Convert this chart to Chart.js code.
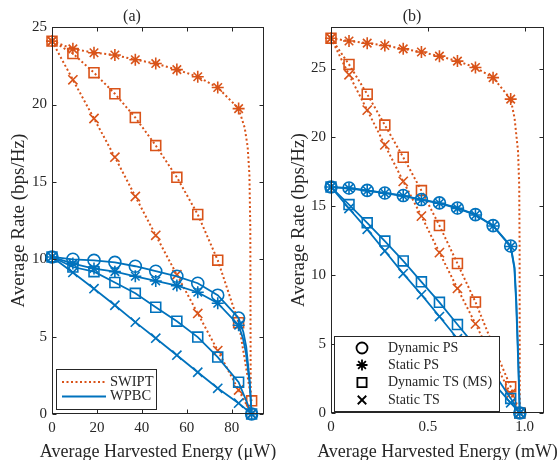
<!DOCTYPE html>
<html>
<head>
<meta charset="utf-8">
<script src="https://cdn.jsdelivr.net/npm/chart.js@4.4.1/dist/chart.umd.min.js"></script>
<style>
    html, body { margin: 0; padding: 0; background: #fff; }
    .panel { position: absolute; top: 0; height: 460px; }
</style>
</head>
<body>
<div class="panel" style="left:0;width:280px"><canvas id="chart-a"></canvas></div>
<div class="panel" style="left:280px;width:279px"><canvas id="chart-b"></canvas></div>
<script>
// Legend text
const systemLabels = ['SWIPT', 'WPBC'];
const schemeLabels = ['Dynamic PS', 'Static PS', 'Dynamic TS (MS)', 'Static TS'];

// Tick labels
const aXTicks = [0, 20, 40, 60, 80];
const aYTicks = [0, 5, 10, 15, 20, 25];
const bXTicks = [0, 0.5, 1];
const bYTicks = [0, 5, 10, 15, 20, 25];

// (a) energy in uW at the marker positions
const aX = [0, 9.3, 18.7, 28, 37.1, 46.2, 55.6, 64.9, 73.8, 83.1];
const aXEnd = [0, 9.3, 18.7, 28, 37.1, 46.2, 55.6, 64.9, 73.8, 83.1, 88.9];

// (a) SWIPT
const aSwStaticPs = [24.1, 23.6, 23.35, 23.2, 22.9, 22.65, 22.26, 21.8, 21.1, 19.74];
const aSwStaticPsTailX = [85.8, 87.1, 87.9, 88.3, 88.5];
const aSwStaticPsTailY = [18.5, 17.3, 15.5, 12, 0];
const aSwDynTs = [24.1, 23.3, 22.06, 20.7, 19.16, 17.35, 15.3, 12.9, 9.94, 5.9, 0.85];
const aSwStaticTs = [24.1, 21.6, 19.1, 16.6, 14.06, 11.55, 9.0, 6.5, 4.1, 1.55, 0];

// (a) WPBC
const aWbDynPs = [10.15, 10.0, 9.93, 9.8, 9.55, 9.23, 8.9, 8.45, 7.68, 6.2, 0];
const aWbDynPsTailX = [85.2, 86.5, 88.0];
const aWbDynPsTailY = [5.3, 4.34, 2.2];
const aWbStaticPs = [10.15, 9.72, 9.4, 9.2, 8.9, 8.6, 8.3, 7.87, 7.16, 5.74, 0];
const aWbStaticPsTailX = [85.0, 86.3, 88.0];
const aWbStaticPsTailY = [4.9, 4.0, 2.0];
const aWbDynTs = [10.15, 9.5, 9.2, 8.5, 7.8, 6.9, 6.0, 4.97, 3.68, 2.06, 0];
const aWbStaticTs = [10.15, 9.15, 8.1, 7.03, 5.94, 4.9, 3.8, 2.7, 1.66, 0.7, 0];

// (b) energy in mW at the marker positions
const bX = [0, 0.093, 0.187, 0.278, 0.373, 0.467, 0.56, 0.653, 0.746, 0.837, 0.928];
const bXEnd = [0, 0.093, 0.187, 0.278, 0.373, 0.467, 0.56, 0.653, 0.746, 0.837, 0.928, 0.975];

// (b) SWIPT
const bSwStaticPs = [27.2, 27.0, 26.84, 26.67, 26.43, 26.2, 25.9, 25.54, 25.08, 24.34, 22.78];
const bSwStaticPsTailX = [0.948, 0.966, 0.972, 0.974, 0.975];
const bSwStaticPsTailY = [21.4, 18.97, 16.5, 12, 0];
const bSwDynTs = [27.2, 25.3, 23.14, 20.9, 18.56, 16.14, 13.6, 10.85, 8.05, 4.9, 1.9, 0];
const bSwStaticTs = [27.2, 24.55, 21.98, 19.46, 16.81, 14.29, 11.64, 9.04, 6.47, 3.9, 1.4, 0];

// (b) WPBC
const bWbDynPs = [16.4, 16.33, 16.16, 15.97, 15.78, 15.49, 15.25, 14.88, 14.4, 13.6, 12.12, 0];
const bWbDynPsTailX = [0.948, 0.957, 0.966];
const bWbDynPsTailY = [10.55, 8.15, 4.5];
const bWbStaticPs = [16.4, 16.3, 16.13, 15.95, 15.75, 15.46, 15.22, 14.85, 14.37, 13.57, 12.08, 0];
const bWbStaticPsTailX = [0.947, 0.956, 0.965];
const bWbStaticPsTailY = [10.5, 8.1, 4.4];
const bWbDynTs = [16.4, 15.13, 13.8, 12.48, 11.04, 9.52, 8.03, 6.42, 4.84, 3.0, 1.06, 0];
const bWbStaticTs = [16.4, 14.84, 13.33, 11.76, 10.12, 8.59, 7.0, 5.39, 3.8, 2.2, 0.74, 0];

const ORANGE = '#D95319';
const BLUE = '#0072BD';
const AXIS = '#262626';
const FONT = "'Liberation Serif', 'Times New Roman', serif";
const MARKER_R = { circle: 6, star: 6, rect: 7, crossRot: 6.5 };

function drawMarker(ctx, style, x, y, r) {
    const s = r * Math.SQRT1_2;
    ctx.beginPath();
    if (style === 'circle') {
        ctx.arc(x, y, r, 0, Math.PI * 2);
    } else if (style === 'rect') {
        ctx.rect(x - s, y - s, 2 * s, 2 * s);
    } else {
        if (style === 'star') {
            ctx.moveTo(x - r, y); ctx.lineTo(x + r, y);
            ctx.moveTo(x, y - r); ctx.lineTo(x, y + r);
        }
        ctx.moveTo(x - s, y - s); ctx.lineTo(x + s, y + s);
        ctx.moveTo(x - s, y + s); ctx.lineTo(x + s, y - s);
    }
    ctx.stroke();
}

function buildDatasets(series) {
    const out = [];
    series.forEach(s => {
        const marks = s.x.map((v, i) => ({ x: v, y: s.y[i] }));
        const tail = (s.tailX || []).map((v, i) => ({ x: v, y: s.tailY[i] }));
        const line = marks.concat(tail).sort((p, q) => p.x - q.x || q.y - p.y);
        const order = s.color === BLUE ? 0 : 1;
        out.push({
            label: s.label + ' line',
            data: line,
            showLine: true,
            borderColor: s.color,
            borderWidth: s.dotted ? 2 : 1.8,
            borderDash: s.dotted ? [2, 2.5] : [],
            pointRadius: 0,
            tension: 0,
            clip: false,
            order: order
        });
        out.push({
            label: s.label,
            data: marks,
            showLine: false,
            pointStyle: s.marker,
            pointRadius: MARKER_R[s.marker],
            pointHoverRadius: MARKER_R[s.marker],
            pointBorderColor: s.color,
            pointBackgroundColor: 'rgba(0,0,0,0)',
            pointBorderWidth: 1.6,
            clip: false,
            order: order
        });
    });
    return out;
}

// Box with inward ticks, MATLAB style
const boxPlugin = {
    id: 'matlabBox',
    afterDatasetsDraw(chart) {
        const { ctx, chartArea: a, scales: { x, y } } = chart;
        const l = Math.round(a.left) + 0.5, r = Math.round(a.right) - 0.5;
        const t = Math.round(a.top) + 0.5, b = Math.round(a.bottom) - 0.5;
        ctx.save();
        ctx.strokeStyle = AXIS;
        ctx.lineWidth = 1;
        ctx.strokeRect(l, t, r - l, b - t);
        ctx.beginPath();
        x.ticks.forEach(tk => {
            const px = Math.round(x.getPixelForValue(tk.value)) + 0.5;
            ctx.moveTo(px, t); ctx.lineTo(px, t + 4);
            ctx.moveTo(px, b); ctx.lineTo(px, b - 4);
        });
        y.ticks.forEach(tk => {
            const py = Math.round(y.getPixelForValue(tk.value)) + 0.5;
            ctx.moveTo(l, py); ctx.lineTo(l + 4, py);
            ctx.moveTo(r, py); ctx.lineTo(r - 4, py);
        });
        ctx.stroke();
        ctx.restore();
    }
};

// x axis title drawn by hand so it is not squeezed to the plot width
function xTitlePlugin(text) {
    return {
        id: 'xTitle',
        afterDraw(chart) {
            const { ctx, chartArea: a } = chart;
            ctx.save();
            ctx.font = '18px ' + FONT;
            ctx.fillStyle = AXIS;
            ctx.textAlign = 'center';
            ctx.textBaseline = 'alphabetic';
            ctx.fillText(text, (a.left + a.right) / 2, 457);
            ctx.restore();
        }
    };
}

function legendPlugin(cfg) {
    return {
        id: 'boxLegend',
        afterDraw(chart) {
            const ctx = chart.ctx;
            const [bx, by, bw, bh] = cfg.box;
            ctx.save();
            ctx.fillStyle = '#fff';
            ctx.fillRect(bx, by, bw, bh);
            ctx.strokeStyle = AXIS;
            ctx.lineWidth = 1;
            ctx.strokeRect(bx + 0.5, by + 0.5, bw, bh);
            ctx.font = cfg.fontSize + 'px ' + FONT;
            ctx.textBaseline = 'middle';
            ctx.textAlign = 'left';
            cfg.items.forEach((it, i) => {
                const yy = cfg.rows[i];
                ctx.strokeStyle = it.color;
                if (it.marker) {
                    ctx.lineWidth = 1.8;
                    ctx.setLineDash([]);
                    drawMarker(ctx, it.marker, cfg.sampleX[0], yy, MARKER_R[it.marker] - 0.5);
                } else {
                    ctx.lineWidth = it.dotted ? 2 : 1.8;
                    ctx.setLineDash(it.dotted ? [2, 2.5] : []);
                    ctx.beginPath();
                    ctx.moveTo(cfg.sampleX[0], yy);
                    ctx.lineTo(cfg.sampleX[1], yy);
                    ctx.stroke();
                    ctx.setLineDash([]);
                }
                ctx.fillStyle = AXIS;
                ctx.fillText(it.label, cfg.textX, yy);
            });
            ctx.restore();
        }
    };
}

function makePanel(canvasId, cfg) {
    const tickFont = { family: FONT, size: 15 };
    const titleFont = { family: FONT, size: 19, lineHeight: 1 };
    return new Chart(document.getElementById(canvasId), {
        type: 'scatter',
        data: { datasets: buildDatasets(cfg.series) },
        options: {
            responsive: true,
            maintainAspectRatio: false,
            animation: false,
            events: [],
            layout: { padding: { left: 0, right: cfg.padRight, top: 0, bottom: 0 } },
            plugins: {
                legend: { display: false },
                tooltip: { enabled: false },
                title: {
                    display: true,
                    text: cfg.title,
                    color: AXIS,
                    font: { family: FONT, size: 16, weight: 'normal', lineHeight: 1.2 },
                    padding: { top: 7, bottom: 1 }
                }
            },
            scales: {
                x: {
                    type: 'linear',
                    min: 0,
                    max: cfg.xMax,
                    afterBuildTicks: s => { s.ticks = cfg.xTicks.map(v => ({ value: v })); },
                    afterFit: s => { s.height = cfg.xAxisHeight; },
                    grid: { display: false, drawTicks: false },
                    border: { display: false },
                    ticks: { color: AXIS, font: tickFont, padding: 5, maxRotation: 0 },
                    title: { display: false }
                },
                y: {
                    type: 'linear',
                    min: 0,
                    max: cfg.yMax,
                    afterBuildTicks: s => { s.ticks = cfg.yTicks.map(v => ({ value: v })); },
                    afterFit: s => { s.width = cfg.yAxisWidth; },
                    grid: { display: false, drawTicks: false },
                    border: { display: false },
                    ticks: { color: AXIS, font: tickFont, padding: 5 },
                    title: {
                        display: true,
                        text: 'Average Rate (bps/Hz)',
                        color: AXIS,
                        font: titleFont,
                        padding: { top: 10, bottom: 0 }
                    }
                }
            }
        },
        plugins: [boxPlugin, xTitlePlugin(cfg.xTitle), legendPlugin(cfg.legend)]
    });
}

makePanel('chart-a', {
    title: '(a)',
    xTitle: 'Average Harvested Energy (\u03bcW)',
    xMax: 94.4,
    yMax: 25,
    xTicks: aXTicks,
    yTicks: aYTicks,
    padRight: 16,
    xAxisHeight: 46,
    yAxisWidth: 52,
    series: [
        { label: 'WPBC Dynamic PS', x: aXEnd, y: aWbDynPs, tailX: aWbDynPsTailX, tailY: aWbDynPsTailY, color: BLUE, marker: 'circle' },
        { label: 'WPBC Static PS', x: aXEnd, y: aWbStaticPs, tailX: aWbStaticPsTailX, tailY: aWbStaticPsTailY, color: BLUE, marker: 'star' },
        { label: 'WPBC Dynamic TS (MS)', x: aXEnd, y: aWbDynTs, color: BLUE, marker: 'rect' },
        { label: 'WPBC Static TS', x: aXEnd, y: aWbStaticTs, color: BLUE, marker: 'crossRot' },
        { label: 'SWIPT Static PS', x: aX, y: aSwStaticPs, tailX: aSwStaticPsTailX, tailY: aSwStaticPsTailY, color: ORANGE, marker: 'star', dotted: true },
        { label: 'SWIPT Dynamic TS (MS)', x: aXEnd, y: aSwDynTs, color: ORANGE, marker: 'rect', dotted: true },
        { label: 'SWIPT Static TS', x: aXEnd, y: aSwStaticTs, color: ORANGE, marker: 'crossRot', dotted: true }
    ],
    legend: {
        box: [56, 369, 100, 40],
        rows: [382, 396.5],
        sampleX: [62, 106],
        textX: 110,
        fontSize: 14.5,
        items: [
            { label: systemLabels[0], color: ORANGE, dotted: true },
            { label: systemLabels[1], color: BLUE }
        ]
    }
});

makePanel('chart-b', {
    title: '(b)',
    xTitle: 'Average Harvested Energy (mW)',
    xMax: 1.1,
    yMax: 28,
    xTicks: bXTicks,
    yTicks: bYTicks,
    padRight: 15,
    xAxisHeight: 47,
    yAxisWidth: 51,
    series: [
        { label: 'WPBC Dynamic PS', x: bXEnd, y: bWbDynPs, tailX: bWbDynPsTailX, tailY: bWbDynPsTailY, color: BLUE, marker: 'circle' },
        { label: 'WPBC Static PS', x: bXEnd, y: bWbStaticPs, tailX: bWbStaticPsTailX, tailY: bWbStaticPsTailY, color: BLUE, marker: 'star' },
        { label: 'WPBC Dynamic TS (MS)', x: bXEnd, y: bWbDynTs, color: BLUE, marker: 'rect' },
        { label: 'WPBC Static TS', x: bXEnd, y: bWbStaticTs, color: BLUE, marker: 'crossRot' },
        { label: 'SWIPT Static PS', x: bX, y: bSwStaticPs, tailX: bSwStaticPsTailX, tailY: bSwStaticPsTailY, color: ORANGE, marker: 'star', dotted: true },
        { label: 'SWIPT Dynamic TS (MS)', x: bXEnd, y: bSwDynTs, color: ORANGE, marker: 'rect', dotted: true },
        { label: 'SWIPT Static TS', x: bXEnd, y: bSwStaticTs, color: ORANGE, marker: 'crossRot', dotted: true }
    ],
    legend: {
        box: [54, 336, 165, 75],
        rows: [348, 365, 382.5, 400],
        sampleX: [82],
        textX: 108,
        fontSize: 14,
        items: [
            { label: schemeLabels[0], color: '#000', marker: 'circle' },
            { label: schemeLabels[1], color: '#000', marker: 'star' },
            { label: schemeLabels[2], color: '#000', marker: 'rect' },
            { label: schemeLabels[3], color: '#000', marker: 'crossRot' }
        ]
    }
});
</script>
</body>
</html>
